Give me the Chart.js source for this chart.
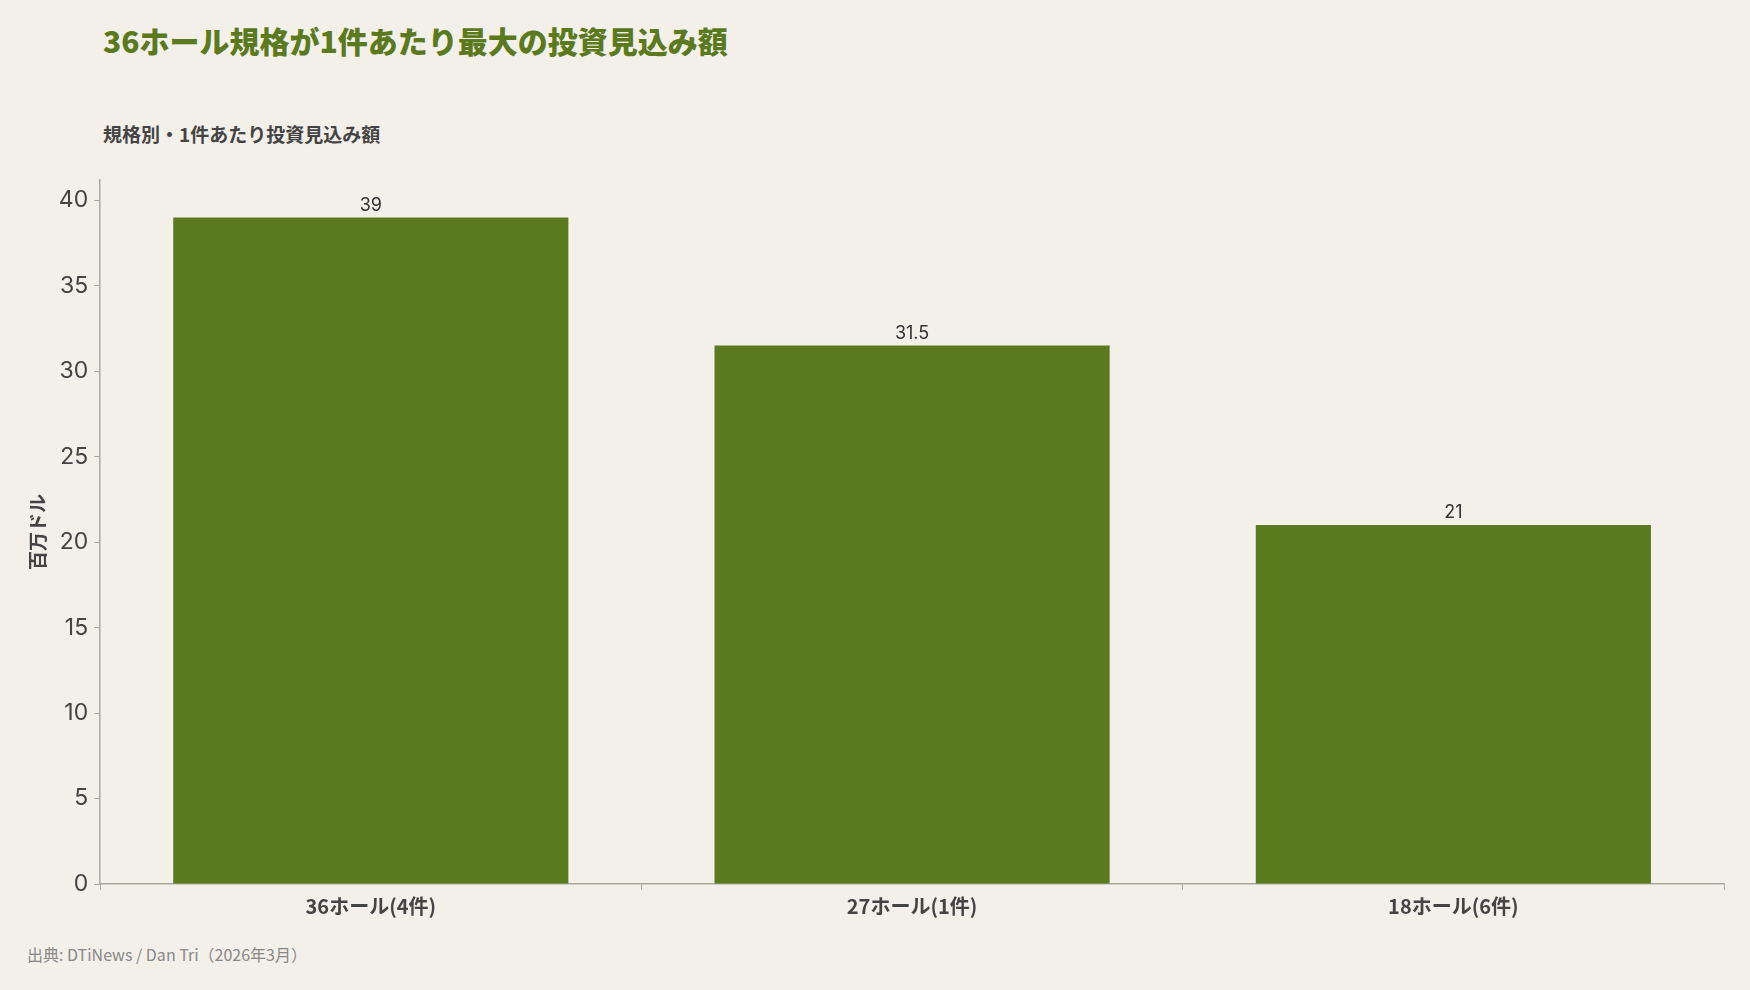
<!DOCTYPE html>
<html><head><meta charset="utf-8">
<script src="https://cdn.jsdelivr.net/npm/chart.js@4"></script>
<style>
body{margin:0;background:#f3f0e9;font-family:"Noto Sans CJK JP","Noto Sans",sans-serif;width:1750px;height:990px;position:relative;overflow:hidden}
#t{position:absolute;left:103px;top:18px;font-size:30px;font-weight:900;color:#5b7a1e}
#s{position:absolute;left:103px;top:120px;font-size:19px;font-weight:bold;color:#444}
#src{position:absolute;left:27px;top:942px;font-size:16px;color:#888}
#w{position:absolute;left:0;top:160px;width:1750px;height:780px}
</style></head><body>
<div id="t">36ホール規格が1件あたり最大の投資見込み額</div>
<div id="s">規格別・1件あたり投資見込み額</div>
<div id="w"><canvas id="c"></canvas></div>
<div id="src">出典: DTiNews / Dan Tri（2026年3月）</div>
<script>
const categories=["36ホール(4件)","27ホール(1件)","18ホール(6件)"];
const values=[39,31.5,21];
const yTicks=[0,5,10,15,20,25,30,35,40];
const labelPlugin={id:"lbl",afterDatasetsDraw(ch){const c=ch.ctx;c.save();c.font="18px Inter";c.fillStyle="#333";c.textAlign="center";c.textBaseline="bottom";
ch.getDatasetMeta(0).data.forEach((b,i)=>c.fillText(values[i],b.x,b.y-3));c.restore();}};
new Chart(document.getElementById("c"),{type:"bar",
data:{labels:categories,datasets:[{data:values,backgroundColor:"#5b7a1e",barPercentage:0.73,categoryPercentage:1}]},
options:{responsive:true,maintainAspectRatio:false,animation:false,
layout:{padding:{top:16,right:26,left:22,bottom:18}},
plugins:{legend:{display:false},tooltip:{enabled:false}},
scales:{
x:{grid:{display:true,drawOnChartArea:false,drawTicks:true,tickLength:6,color:"#a8aa9c"},border:{color:"#a8aa9c",width:1.5},ticks:{color:"#444",font:{size:20,weight:"bold",family:"Noto Sans CJK JP"},padding:4}},
y:{min:0,max:41.2,afterBuildTicks(a){a.ticks=yTicks.map(v=>({value:v}));},ticks:{color:"#444",font:{size:23,family:"Inter"},padding:6},grid:{display:true,drawOnChartArea:false,drawTicks:true,tickLength:6,color:"#a8aa9c"},border:{color:"#a8aa9c",width:1.5},
title:{display:true,text:"百万ドル",color:"#444",font:{size:19,weight:"bold",family:"Noto Sans CJK JP"},padding:4}}}},
plugins:[labelPlugin]});
</script></body></html>
